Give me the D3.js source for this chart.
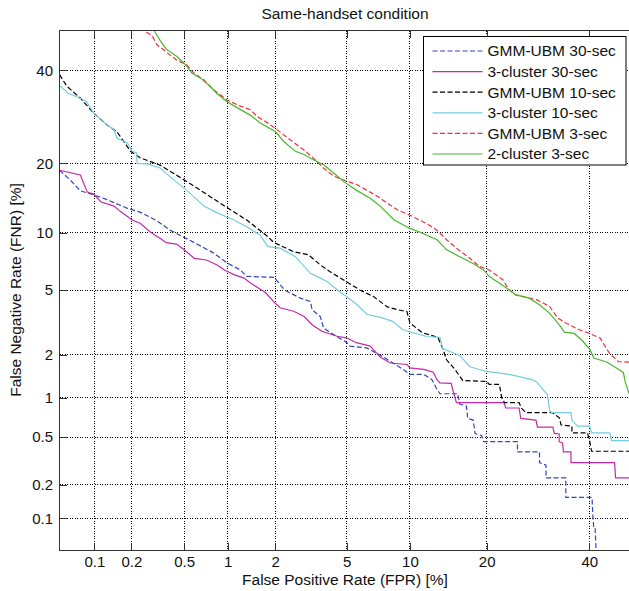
<!DOCTYPE html>
<html>
<head>
<meta charset="utf-8">
<title>Same-handset condition</title>
<script src="https://cdnjs.cloudflare.com/ajax/libs/d3/7.8.5/d3.min.js"></script>
<style>
    body { margin: 0; background: #fff; overflow: hidden; }
    svg { font-family: "Liberation Sans", Arial, sans-serif; }
    .grid line { stroke: #000; stroke-width: 1; stroke-dasharray: 1, 1.5; shape-rendering: crispEdges; }
    .axis path { display: none; }
    .axis line { stroke: #333; shape-rendering: crispEdges; }
    .axis text { font-size: 15px; fill: #111; }
</style>
</head>
<body>
<svg id="chart" width="629" height="591"></svg>
<script>
// tick values in percent and their labels
const tickValues = [0.1, 0.2, 0.5, 1, 2, 5, 10, 20, 40];
const tickLabels = ["0.1", "0.2", "0.5", "1", "2", "5", "10", "20", "40"];

const seriesNames = ["GMM-UBM 30-sec", "3-cluster 30-sec", "GMM-UBM 10-sec",
    "3-cluster 10-sec", "GMM-UBM 3-sec", "2-cluster 3-sec"];

// [FPR %, FNR %]
const gmmUbm30 = [[0.05,18.8],[0.062,17.2],[0.076,15.5],[0.098,14.9],[0.127,14.2],[0.186,13.0],[0.234,12.5],[0.315,11.4],[0.395,10.3],[0.5,9.5],[0.6,8.9],[0.8,7.95],[0.99,7.05],[1.21,6.47],[1.33,5.97],[1.97,5.9],[2.28,5.0],[2.81,4.5],[3.2,4.3],[3.27,3.85],[3.63,3.5],[3.78,2.98],[4.12,2.78],[4.98,2.42],[5.2,2.28],[6.3,2.22],[7.6,1.93],[8.5,1.74],[9.35,1.59],[10.0,1.47],[11.45,1.47],[12.4,1.35],[13.0,1.15],[13.35,1.07],[15.7,1.07],[15.95,0.9],[16.9,0.87],[17.1,0.7],[17.9,0.68],[18.2,0.535],[19.2,0.515],[19.5,0.46],[25.3,0.46],[25.3,0.38],[29.5,0.38],[29.5,0.31],[30.8,0.295],[30.8,0.23],[34.9,0.23],[34.9,0.155],[40.6,0.155],[40.8,0.104],[41.0,0.08],[41.3,0.08],[41.6,0.04]];

const cluster30 = [[0.05,18.8],[0.076,18.0],[0.087,15.3],[0.098,15.0],[0.113,13.9],[0.145,13.3],[0.163,12.6],[0.203,11.5],[0.234,11.1],[0.28,10.1],[0.332,9.4],[0.37,8.95],[0.44,8.8],[0.5,8.24],[0.59,7.45],[0.72,7.3],[0.85,6.88],[0.95,6.47],[1.1,6.1],[1.28,5.84],[1.4,5.5],[1.75,4.83],[2.0,4.2],[2.14,3.95],[2.57,3.77],[2.95,3.5],[3.27,3.12],[3.7,2.84],[4.46,2.64],[5.0,2.58],[5.6,2.4],[6.56,2.28],[7.32,1.93],[8.16,1.76],[9.7,1.72],[10.0,1.63],[11.45,1.59],[12.55,1.52],[13.0,1.35],[13.35,1.28],[14.8,1.27],[15.0,1.15],[15.5,0.92],[22.9,0.92],[23.2,0.84],[25.6,0.84],[25.9,0.7],[28.8,0.68],[29.1,0.6],[32.2,0.6],[32.5,0.535],[33.5,0.53],[33.5,0.46],[34.2,0.45],[34.4,0.38],[36.0,0.38],[36.0,0.31],[45.7,0.31],[45.9,0.23],[50,0.23]];

const gmmUbm10 = [[0.05,39],[0.058,36.2],[0.076,33.4],[0.098,30.1],[0.127,27.5],[0.153,26.1],[0.197,22.2],[0.234,21.0],[0.332,19.7],[0.5,17.2],[0.65,15.6],[0.99,13.1],[1.33,11.5],[1.8,9.6],[1.95,9.0],[2.57,8.05],[3.12,7.77],[3.63,6.88],[4.12,6.3],[5.0,5.57],[5.86,5.0],[6.8,4.6],[7.9,4.0],[8.8,3.85],[9.7,3.75],[10.0,3.2],[11.3,2.78],[13.1,2.6],[13.7,2.2],[14.2,1.85],[15.3,1.59],[16.4,1.33],[20.0,1.31],[20.4,1.25],[22.1,1.25],[22.5,1.0],[23.0,0.92],[25.6,0.92],[26.0,0.84],[26.9,0.775],[32.1,0.775],[33.5,0.71],[33.9,0.625],[36.2,0.61],[36.2,0.54],[39.6,0.54],[40.1,0.46],[40.5,0.385],[50,0.385]];

const cluster10 = [[0.05,36.4],[0.06,34.5],[0.076,33.4],[0.086,32.6],[0.098,30.1],[0.127,27.5],[0.145,26.5],[0.153,24.8],[0.186,23.8],[0.203,22.2],[0.22,21.9],[0.222,20.0],[0.265,19.9],[0.332,19.2],[0.42,17.2],[0.52,15.6],[0.69,13.3],[0.85,12.4],[1.1,11.5],[1.33,10.7],[1.62,9.75],[1.8,8.55],[2.14,8.4],[2.63,7.6],[3.2,6.2],[3.63,5.84],[3.97,5.57],[4.6,4.9],[5.0,4.6],[5.65,4.12],[6.35,3.6],[7.45,3.45],[8.4,3.26],[9.3,2.9],[10.3,2.78],[11.8,2.63],[13.35,2.6],[13.7,2.2],[15.95,1.98],[17.4,1.66],[20.0,1.54],[23.8,1.47],[28.1,1.35],[28.9,1.3],[31.1,1.05],[31.5,0.815],[31.9,0.775],[36.0,0.775],[36.2,0.68],[37.4,0.61],[40.1,0.61],[40.5,0.54],[44.6,0.54],[45.0,0.47],[50,0.47]];

const gmmUbm3 = [[0.24,51],[0.25,50],[0.29,48.6],[0.315,46.4],[0.355,45.1],[0.395,43.8],[0.44,42.6],[0.52,41.4],[0.59,39.3],[0.69,37.7],[0.8,35.4],[0.99,33.0],[1.21,31.6],[1.4,30.8],[1.55,29.3],[1.8,27.9],[2.05,26.5],[2.46,24.4],[2.93,22.5],[3.34,20.9],[3.8,19.1],[4.3,17.8],[5.0,17.0],[5.6,16.5],[6.3,15.6],[7.1,14.7],[7.9,13.7],[8.8,12.8],[10.0,12.1],[11.8,11.05],[13.0,10.3],[14.2,9.25],[15.5,8.4],[17.4,7.45],[18.9,6.75],[20.4,6.47],[22.7,5.72],[23.8,5.0],[25.0,4.7],[28.9,4.41],[31.5,4.03],[33.2,3.43],[34.9,3.2],[37.8,2.9],[39.6,2.78],[42.4,2.57],[44.6,2.03],[46.5,1.8],[50,1.78]];

const cluster3 = [[0.29,51],[0.30,50],[0.332,47.5],[0.37,45.3],[0.44,43.5],[0.5,41.8],[0.57,39.3],[0.65,38.2],[0.76,36.2],[0.84,34.6],[0.99,32.6],[1.16,31.2],[1.4,29.6],[1.62,27.9],[2.0,26.1],[2.25,24.1],[2.63,22.2],[2.95,21.6],[3.34,20.6],[3.8,19.7],[4.3,18.3],[4.8,17.0],[5.6,15.6],[6.56,14.4],[7.32,13.3],[8.5,11.5],[10.0,10.5],[11.0,10.1],[13.0,9.25],[14.2,8.24],[15.95,7.6],[17.9,7.0],[19.5,6.47],[20.4,5.97],[21.6,5.62],[23.8,5.03],[25.0,4.7],[27.5,4.5],[29.5,4.12],[31.5,3.67],[33.5,3.12],[34.6,2.8],[36.7,2.75],[38.5,2.47],[40.1,2.17],[41.0,1.9],[44.0,1.78],[46.2,1.62],[47.7,1.51],[48.1,1.3],[49.0,1.07],[50,0.97]];

const seriesData = [gmmUbm30, cluster30, gmmUbm10, cluster10, gmmUbm3, cluster3];
const seriesColors = ["#3246b8", "#c42aa6", "#000000", "#74cde0", "#f2303a", "#45b82a"];
const seriesDash = ["5,2.5", null, "5,2.5", null, "5,2.5", null];

// inverse of the standard normal cdf (Acklam)
function probit(p) {
    const a = [-3.969683028665376e+01, 2.209460984245205e+02, -2.759285104469687e+02, 1.383577518672690e+02, -3.066479806614716e+01, 2.506628277459239e+00];
    const b = [-5.447609879822406e+01, 1.615858368580409e+02, -1.556989798598866e+02, 6.680131188771972e+01, -1.328068155288572e+01];
    const c = [-7.784894002430293e-03, -3.223964580411365e-01, -2.400758277161838e+00, -2.549732539343734e+00, 4.374664141464968e+00, 2.938163982698783e+00];
    const d = [7.784695709041462e-03, 3.224671290700398e-01, 2.445134137142996e+00, 3.754408661907416e+00];
    const plow = 0.02425;
    let q, r;
    if (p < plow) {
        q = Math.sqrt(-2 * Math.log(p));
        return (((((c[0] * q + c[1]) * q + c[2]) * q + c[3]) * q + c[4]) * q + c[5]) / ((((d[0] * q + d[1]) * q + d[2]) * q + d[3]) * q + 1);
    }
    if (p <= 1 - plow) {
        q = p - 0.5; r = q * q;
        return (((((a[0] * r + a[1]) * r + a[2]) * r + a[3]) * r + a[4]) * r + a[5]) * q / (((((b[0] * r + b[1]) * r + b[2]) * r + b[3]) * r + b[4]) * r + 1);
    }
    q = Math.sqrt(-2 * Math.log(1 - p));
    return -(((((c[0] * q + c[1]) * q + c[2]) * q + c[3]) * q + c[4]) * q + c[5]) / ((((d[0] * q + d[1]) * q + d[2]) * q + d[3]) * q + 1);
}

const margin = { top: 30.5, left: 59.5 };
const width = 574, height = 519.5;

const svg = d3.select("#chart");
const g = svg.append("g").attr("transform", "translate(" + margin.left + "," + margin.top + ")");

const x = d3.scaleLinear().domain([probit(0.0005), probit(0.5)]).range([0, width]);
const y = d3.scaleLinear().domain([probit(0.0005), probit(0.5)]).range([height, 0]);
const px = v => x(probit(v / 100));
const py = v => y(probit(v / 100));

g.append("rect").attr("width", width).attr("height", height).attr("fill", "#fff");

// grid
const grid = g.append("g").attr("class", "grid");
grid.selectAll(".gx").data(tickValues).enter().append("line")
    .attr("x1", d => px(d)).attr("x2", d => px(d)).attr("y1", 0).attr("y2", height);
grid.selectAll(".gy").data(tickValues).enter().append("line")
    .attr("y1", d => py(d)).attr("y2", d => py(d)).attr("x1", 0).attr("x2", width);

// curves
g.append("clipPath").attr("id", "clip").append("rect").attr("width", width).attr("height", height);
const line = d3.line().x(d => px(d[0])).y(d => py(d[1]));
g.append("g").attr("clip-path", "url(#clip)")
    .selectAll("path").data(seriesData).enter().append("path")
    .attr("d", line)
    .attr("fill", "none")
    .attr("stroke", (d, i) => seriesColors[i])
    .attr("stroke-width", 1.2)
    .attr("stroke-dasharray", (d, i) => seriesDash[i]);

// axes, ticks drawn inward
const probTicks = tickValues.map(v => probit(v / 100));
g.append("g").attr("class", "axis").attr("transform", "translate(0," + height + ")")
    .call(d3.axisBottom(x).tickValues(probTicks).tickSizeInner(-7).tickSizeOuter(0).tickPadding(6.5)
        .tickFormat((d, i) => tickLabels[i]));
g.append("g").attr("class", "axis")
    .call(d3.axisTop(x).tickValues(probTicks).tickSizeInner(-7).tickSizeOuter(0).tickFormat(""));
g.append("g").attr("class", "axis")
    .call(d3.axisLeft(y).tickValues(probTicks).tickSizeInner(-7).tickSizeOuter(0).tickPadding(6.5)
        .tickFormat((d, i) => tickLabels[i]));

g.append("rect").attr("width", width).attr("height", height)
    .attr("fill", "none").attr("stroke", "#333").attr("stroke-width", 1)
    .style("shape-rendering", "crispEdges");

// labels
svg.append("text").attr("x", 345).attr("y", 18.5).attr("text-anchor", "middle")
    .style("font-size", "15.5px").attr("fill", "#111").text("Same-handset condition");
svg.append("text").attr("x", 345).attr("y", 585).attr("text-anchor", "middle")
    .style("font-size", "15.5px").attr("fill", "#111").text("False Positive Rate (FPR) [%]");
svg.append("text").attr("transform", "translate(21,290) rotate(-90)").attr("text-anchor", "middle")
    .style("font-size", "15.5px").attr("fill", "#111").text("False Negative Rate (FNR) [%]");

// legend
const legend = svg.append("g").attr("transform", "translate(423.5,36.5)");
legend.append("rect").attr("width", 202.5).attr("height", 128.5)
    .attr("fill", "#fff").attr("stroke", "#000").attr("stroke-width", 1);
const items = legend.selectAll(".item").data(seriesNames).enter().append("g")
    .attr("transform", (d, i) => "translate(0," + (14.5 + i * 20.6) + ")");
items.append("line").attr("x1", 9).attr("x2", 59)
    .attr("stroke", (d, i) => seriesColors[i]).attr("stroke-width", 1.2)
    .attr("stroke-dasharray", (d, i) => seriesDash[i]);
items.append("text").attr("x", 64).attr("dy", "0.35em")
    .style("font-size", "15.5px").attr("fill", "#111").text(d => d);
</script>
</body>
</html>
